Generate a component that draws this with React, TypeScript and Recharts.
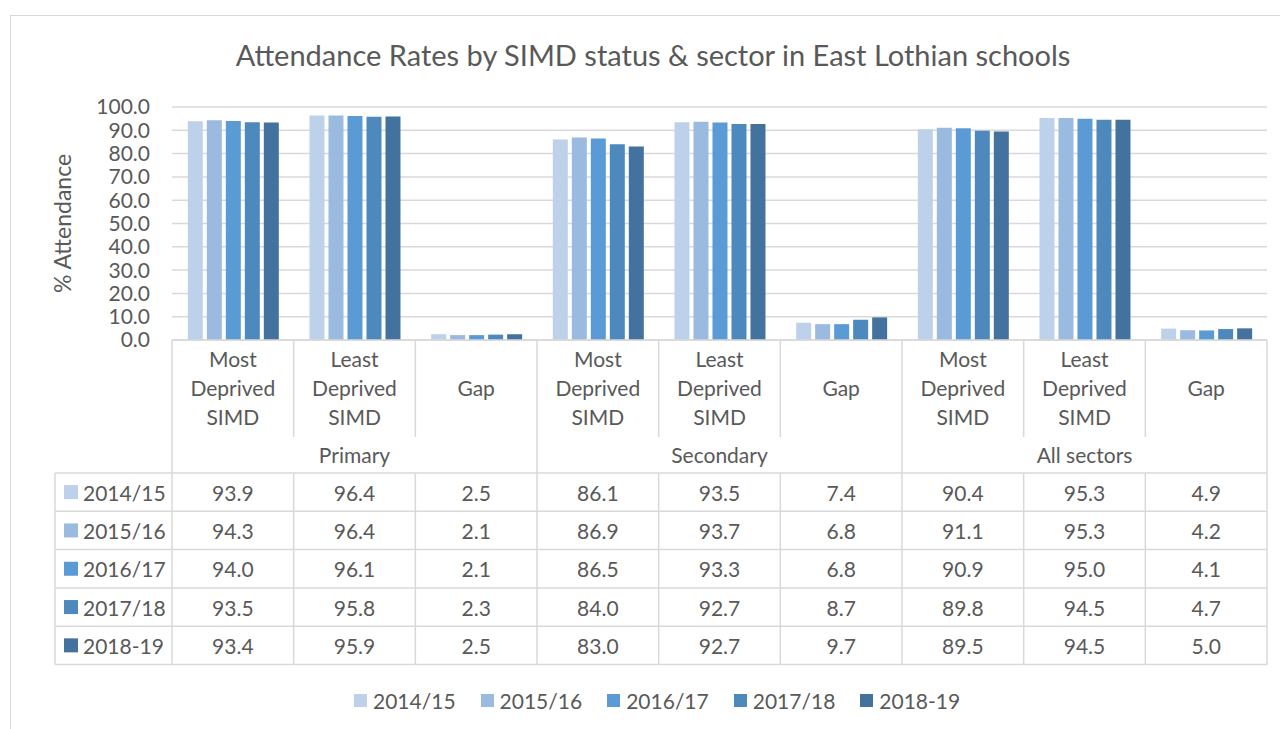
import { BarChart, Bar, XAxis, YAxis, CartesianGrid, Legend } from "recharts"

const categories = [
  "Most\nDeprived\nSIMD",
  "Least\nDeprived\nSIMD",
  "Gap",
  "Most\nDeprived\nSIMD",
  "Least\nDeprived\nSIMD",
  "Gap",
  "Most\nDeprived\nSIMD",
  "Least\nDeprived\nSIMD",
  "Gap",
]
const sectors = ["Primary", "Secondary", "All sectors"]
const years = ["2014/15", "2015/16", "2016/17", "2017/18", "2018-19"]
const colors = ["#BDD1EA", "#9ABADF", "#5B9BD5", "#4E89BE", "#43729E"]

const v2014 = [93.9, 96.4, 2.5, 86.1, 93.5, 7.4, 90.4, 95.3, 4.9]
const v2015 = [94.3, 96.4, 2.1, 86.9, 93.7, 6.8, 91.1, 95.3, 4.2]
const v2016 = [94.0, 96.1, 2.1, 86.5, 93.3, 6.8, 90.9, 95.0, 4.1]
const v2017 = [93.5, 95.8, 2.3, 84.0, 92.7, 8.7, 89.8, 94.5, 4.7]
const v2018 = [93.4, 95.9, 2.5, 83.0, 92.7, 9.7, 89.5, 94.5, 5.0]
const yTicks = [0, 10, 20, 30, 40, 50, 60, 70, 80, 90, 100]

const series = [v2014, v2015, v2016, v2017, v2018]
const keys = ["y0", "y1", "y2", "y3", "y4"]

const data = categories.map((name, i) => {
  const row: Record<string, any> = { name, sector: sectors[Math.floor(i / 3)] }
  series.forEach((s, k) => (row[keys[k]] = s[i]))
  return row
})

const W = 1280
const H = 729
const MARGIN = { top: 107, right: 13, bottom: 0, left: 0 }
const Y_W = 172
const BAND = (W - MARGIN.left - MARGIN.right - Y_W) / categories.length
const LINE = "#D9D9D9"
const TEXT = "#595959"
const FONT = "Lato, 'Open Sans', sans-serif"
const ROW_H = 38.3
const TABLE_LEFT = 55

function CategoryTick(props: any) {
  const { x, y } = props
  const i = props.index ?? props.payload?.index ?? 0
  const left = x - BAND / 2
  const right = x + BAND / 2
  const subBottom = y + 97
  const tableTop = y + 133
  const tableBottom = tableTop + ROW_H * years.length
  const lines = categories[i].split("\n")
  const first = i % 3 === 0
  const last = i === categories.length - 1
  const lineProps = { stroke: LINE, strokeWidth: 1.5 }
  return (
    <g fontFamily={FONT} fontSize={21} fill={TEXT}>
      {first ? (
        <line x1={left} x2={left} y1={y} y2={tableBottom} {...lineProps} />
      ) : (
        <>
          <line x1={left} x2={left} y1={y} y2={subBottom} {...lineProps} />
          <line x1={left} x2={left} y1={tableTop} y2={tableBottom} {...lineProps} />
        </>
      )}
      {last && <line x1={right} x2={right} y1={y} y2={tableBottom} {...lineProps} />}
      {lines.map((t, k) => (
        <text key={k} x={x} y={y + 47 - ((lines.length - 1) * 29) / 2 + k * 29} textAnchor="middle" dominantBaseline="central">
          {t}
        </text>
      ))}
      {i % 3 === 1 && (
        <text x={x} y={y + 114} textAnchor="middle" dominantBaseline="central">
          {sectors[Math.floor(i / 3)]}
        </text>
      )}
      {years.map((_, r) => (
        <line key={"h" + r} x1={i === 0 ? TABLE_LEFT : left} x2={right} y1={tableTop + r * ROW_H} y2={tableTop + r * ROW_H} {...lineProps} />
      ))}
      <line x1={i === 0 ? TABLE_LEFT : left} x2={right} y1={tableBottom} y2={tableBottom} {...lineProps} />
      {series.map((s, r) => (
        <text key={"v" + r} x={x} y={tableTop + (r + 0.5) * ROW_H} textAnchor="middle" dominantBaseline="central">
          {s[i].toFixed(1)}
        </text>
      ))}
      {i === 0 && (
        <>
          <line x1={TABLE_LEFT} x2={TABLE_LEFT} y1={tableTop} y2={tableBottom} {...lineProps} />
          {years.map((yr, r) => (
            <g key={"yr" + r}>
              <rect x={TABLE_LEFT + 9} y={tableTop + (r + 0.5) * ROW_H - 7} width={14} height={14} fill={colors[r]} />
              <text x={TABLE_LEFT + 28} y={tableTop + (r + 0.5) * ROW_H} dominantBaseline="central">
                {yr}
              </text>
            </g>
          ))}
        </>
      )}
    </g>
  )
}

function LegendContent() {
  return (
    <div style={{ height: 40, display: "flex", paddingLeft: 354, fontFamily: FONT, fontSize: 21, color: TEXT, boxSizing: "border-box" }}>
      {years.map((yr, k) => (
        <div key={yr} style={{ display: "flex", alignItems: "center", height: 22, marginRight: 25 }}>
          <span style={{ width: 13, height: 13, background: colors[k], marginRight: 6, display: "inline-block" }} />
          <span>{yr}</span>
        </div>
      ))}
    </div>
  )
}

export default function App() {
  return (
    <div style={{ position: "absolute", left: 0, top: 0, width: W, height: H, overflow: "hidden", background: "#fff" }}>
      <div style={{ position: "absolute", left: 10, top: 15, width: 1300, height: 760, border: `1.5px solid ${LINE}` }} />
      <div
        style={{
          position: "absolute",
          left: 0,
          top: 36,
          width: 1306,
          textAlign: "center",
          fontFamily: FONT,
          fontSize: 29,
          color: TEXT,
          lineHeight: "38px",
        }}
      >
        Attendance Rates by SIMD status &amp; sector in East Lothian schools
      </div>
      <div style={{ position: "absolute", left: 0, top: 0 }}>
        <BarChart width={W} height={H} data={data} margin={MARGIN} barCategoryGap="13%" barGap={4}>
          <CartesianGrid horizontal vertical={false} stroke={LINE} strokeWidth={1.5} />
          <XAxis
            dataKey="name"
            interval={0}
            height={349}
            tickSize={0}
            tickMargin={0}
            axisLine={{ stroke: LINE, strokeWidth: 1.5 }}
            tickLine={false}
            tick={(p: any) => <CategoryTick {...p} />}
          />
          <YAxis
            width={Y_W}
            domain={[0, 100]}
            ticks={yTicks}
            interval={0}
            axisLine={false}
            tickLine={false}
            tickSize={0}
            tickMargin={22}
            tickFormatter={(v: number) => v.toFixed(1)}
            tick={{ fill: TEXT, fontSize: 21, fontFamily: FONT }}
            label={{
              content: (p: any) => {
                const vb = p.viewBox || { x: 0, y: 107, height: 233 }
                const cx = vb.x + 62
                const cy = vb.y + vb.height / 2
                return (
                  <text x={cx} y={cy} transform={`rotate(-90 ${cx} ${cy})`} textAnchor="middle" dominantBaseline="central" fill={TEXT} fontSize={23} fontFamily={FONT}>
                    % Attendance
                  </text>
                )
              },
            }}
          />
          <Legend content={() => <LegendContent />} wrapperStyle={{ position: "absolute", left: 0, top: 689, width: W, height: 40 }} />
          {keys.map((k, s) => (
            <Bar key={k} dataKey={k} name={years[s]} fill={colors[s]} isAnimationActive={false} />
          ))}
        </BarChart>
      </div>
    </div>
  )
}
